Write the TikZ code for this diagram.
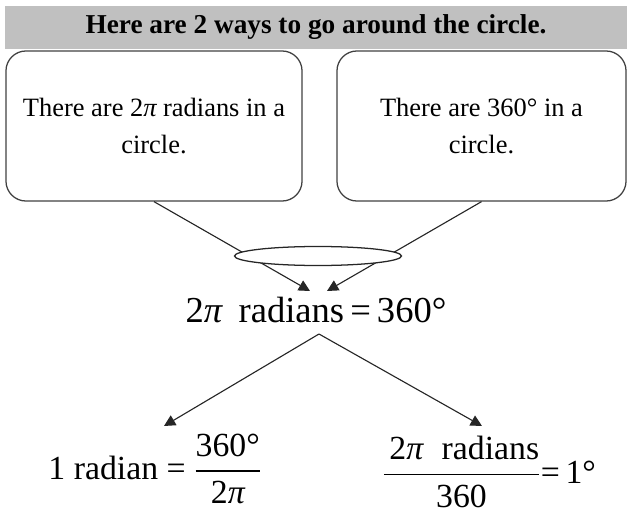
\documentclass[tikz,border=0pt]{standalone}
\usepackage{amsmath}
\usepackage{fontspec}
\setmainfont{Liberation Serif}
\usetikzlibrary{arrows.meta, positioning, shapes.geometric}
\definecolor{bannergray}{RGB}{192,192,192}
\definecolor{edgegray}{RGB}{64,64,64}
\newcommand{\barfrac}[2]{\genfrac{}{}{1.1pt}{0}{#1}{#2}}

\begin{document}
\begin{tikzpicture}[
        x=0.025cm, y=-0.025cm,
        banner/.style = {rectangle, fill=bannergray, minimum width=15.55cm, minimum height=1.08cm, inner sep=0pt, font=\fontsize{19.4}{23}\selectfont\bfseries},
        fact/.style = {draw=edgegray, rectangle, rounded corners=0.5cm, minimum height=3.75cm, align=center, line width=0.9pt, font=\fontsize{18.8}{26.3}\selectfont},
        eqn/.style = {inner sep=0pt, font=\fontsize{24}{28}\selectfont},
        link/.style = {draw=black!85, line width=0.8pt},
        arrow/.style = {link, -{Triangle[length=8pt, width=8pt]}}
    ]
        \useasboundingbox (0,0) rectangle (627,513);

        % Title bar
        \node (title) [banner] at (316,27.5) {Here are 2 ways to go around the circle.};

        % The two facts
        \node (factRad) [fact, minimum width=7.4cm] at (154,126) {There are 2{\itshape π} radians in a\\circle.};
        \node (factDeg) [fact, minimum width=7.225cm] at (481.5,126) {There are 360° in a\\circle.};

        % Combined equation
        \node (mainEq) [eqn, font=\fontsize{26}{30}\selectfont] at (316,310) {2{\itshape π}\hspace{0.2em} radians\,=\,360°};

        % Derived results
        \node (radEq) [eqn] at (155,469) {1 radian = $\barfrac{\text{360°}}{\text{2{\itshape π}}}$};
        \node (degEq) [eqn] at (489,472) {$\barfrac{\text{\,2{\itshape π}\hspace{0.3em} radians}}{\text{360}}$=\,1°};

        % Arrows
        \coordinate (tipRad) at (310,291);
        \coordinate (tipDeg) at (327,291);
        \draw [arrow] (factRad.south) -- (tipRad);
        \draw [arrow] (factDeg.south) -- (tipDeg);
        \node (joint) [draw=black!85, line width=0.9pt, fill=white, ellipse, minimum width=4.175cm, minimum height=0.475cm, inner sep=0pt] at (318,256) {};

        \coordinate (splitEq) at (319,334);
        \coordinate (tipLeft) at (164,426);
        \coordinate (tipRight) at (482,426);
        \draw [arrow] (splitEq) -- (tipLeft);
        \draw [arrow] (splitEq) -- (tipRight);

    \end{tikzpicture}
\end{document}
